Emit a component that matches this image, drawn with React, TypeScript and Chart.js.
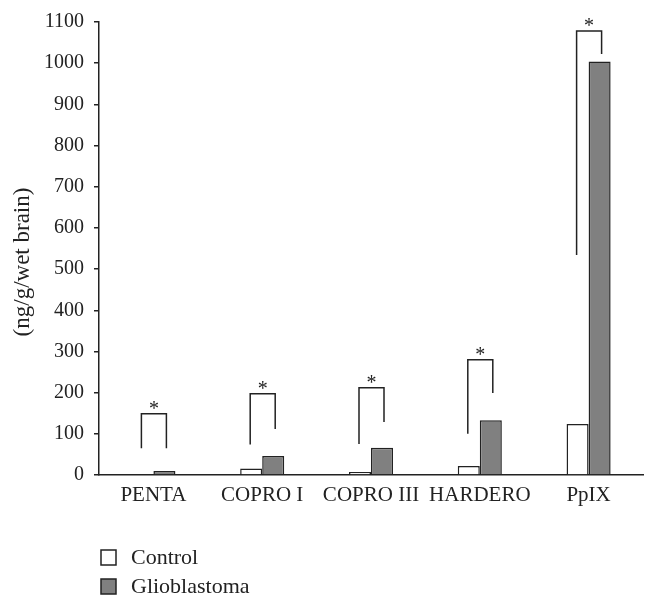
import { useEffect, useRef } from "react";
import { Chart, registerables } from "chart.js";

Chart.register(...registerables);

const categories = ["PENTA", "COPRO I", "COPRO III", "HARDERO", "PpIX"];
const controlValues = [0, 16, 7, 22, 124];
const glioblastomaValues = [10, 46, 66, 133, 1004];
// significance brackets (values in axis units)
const bracketTop = [149, 197, 212, 280, 1078];
const bracketLeftEnd = [65, 74, 75, 100, 534];
const bracketRightEnd = [65, 112, 129, 199, 1022];
const yMax = 1100;
const yStep = 100;
const yTitle = "(ng/g/wet brain)";

const FONT = "'Liberation Serif', 'DejaVu Serif', serif";

const bracketPlugin = {
  id: "brackets",
  afterDatasetsDraw(chart: any) {
    const { ctx, scales } = chart;
    const x = scales.x;
    const y = scales.y;
    ctx.save();
    ctx.strokeStyle = "#222";
    ctx.lineWidth = 1.5;
    ctx.fillStyle = "#222";
    ctx.font = `20px ${FONT}`;
    ctx.textAlign = "center";
    ctx.textBaseline = "alphabetic";
    categories.forEach((_, i) => {
      const xc = x.getPixelForValue(i) + 0.5;
      const xl = xc - 12.5;
      const xr = xc + 12.5;
      const yt = y.getPixelForValue(bracketTop[i]);
      const yl = y.getPixelForValue(bracketLeftEnd[i]);
      const yr = y.getPixelForValue(bracketRightEnd[i]);
      ctx.beginPath();
      ctx.moveTo(xl, yl);
      ctx.lineTo(xl, yt);
      ctx.lineTo(xr, yt);
      ctx.lineTo(xr, yr);
      ctx.stroke();
      ctx.fillText("*", xc, yt + 1);
    });
    ctx.restore();
  },
};

const titleLegendPlugin = {
  id: "titleLegend",
  afterDraw(chart: any) {
    const { ctx } = chart;
    ctx.save();
    // y-axis title
    ctx.save();
    ctx.translate(23, 262);
    ctx.rotate(-Math.PI / 2);
    ctx.font = `23px ${FONT}`;
    ctx.fillStyle = "#222";
    ctx.textAlign = "center";
    ctx.textBaseline = "middle";
    ctx.fillText(yTitle, 0, 0);
    ctx.restore();
    // legend
    ctx.font = `22px ${FONT}`;
    ctx.textAlign = "left";
    ctx.textBaseline = "middle";
    chart.data.datasets.forEach((ds: any, i: number) => {
      const bx = 101;
      const by = 550 + i * 29;
      ctx.fillStyle = ds.backgroundColor;
      ctx.fillRect(bx, by, 15, 15);
      ctx.strokeStyle = "#222";
      ctx.lineWidth = 1.5;
      ctx.strokeRect(bx, by, 15, 15);
      ctx.fillStyle = "#222";
      ctx.fillText(ds.label, 131, by + 8);
    });
    ctx.restore();
  },
};

export default function App() {
  const ref = useRef<HTMLCanvasElement | null>(null);
  useEffect(() => {
    document.body.style.margin = "0";
    if (!ref.current) return;
    const chart = new Chart(ref.current, {
      type: "bar",
      data: {
        labels: categories,
        datasets: [
          {
            label: "Control",
            data: controlValues,
            backgroundColor: "#ffffff",
            borderColor: "#222",
            borderWidth: 1.5,
            categoryPercentage: 0.405,
            barPercentage: 1,
          },
          {
            label: "Glioblastoma",
            data: glioblastomaValues,
            backgroundColor: "#808080",
            borderColor: "#222",
            borderWidth: 1.5,
            categoryPercentage: 0.405,
            barPercentage: 1,
          },
        ],
      },
      options: {
        responsive: false,
        animation: false,
        layout: { padding: { top: 22, right: 15, left: 0, bottom: 0 } },
        plugins: {
          legend: { display: false },
          tooltip: { enabled: false },
        },
        scales: {
          x: {
            grid: { display: false, drawTicks: false },
            border: { display: true, color: "#222", width: 1.5 },
            ticks: {
              color: "#222",
              font: { family: FONT, size: 21 },
              padding: 8,
              maxRotation: 0,
            },
            afterFit: (s: any) => {
              s.height = 134;
            },
          },
          y: {
            min: 0,
            max: yMax,
            grid: {
              drawOnChartArea: false,
              drawTicks: true,
              tickLength: 5,
              color: "#222",
              lineWidth: 1.5,
            },
            border: { display: true, color: "#222", width: 1.5 },
            ticks: {
              stepSize: yStep,
              color: "#222",
              font: { family: FONT, size: 20 },
              padding: 10,
              callback: (v: any) => String(v),
            },
            title: { display: false },
            afterFit: (s: any) => {
              s.width = 99;
            },
          },
        },
      },
      plugins: [bracketPlugin, titleLegendPlugin],
    });
    return () => chart.destroy();
  }, []);
  return (
    <div style={{ width: 658, height: 609 }}>
      <canvas ref={ref} width={658} height={609} style={{ display: "block" }} />
    </div>
  );
}
